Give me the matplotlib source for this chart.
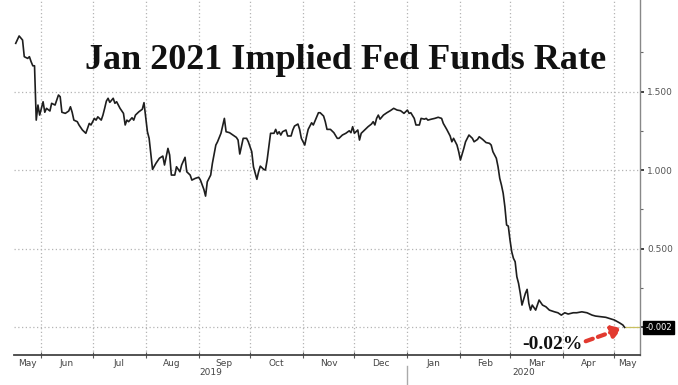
import numpy as np
import pandas as pd
import matplotlib
matplotlib.use("Agg")
import matplotlib.pyplot as plt
import matplotlib.dates as mdates
from matplotlib.ticker import FixedLocator, FixedFormatter, NullFormatter

# values
dates = [
    "2019-05-17", "2019-05-19", "2019-05-21", "2019-05-22", "2019-05-24", "2019-05-25",
    "2019-05-26", "2019-05-27", "2019-05-28", "2019-05-29", "2019-05-30", "2019-05-31",
    "2019-06-02", "2019-06-03", "2019-06-04", "2019-06-06", "2019-06-07", "2019-06-09",
    "2019-06-11", "2019-06-12", "2019-06-13", "2019-06-15", "2019-06-17", "2019-06-18",
    "2019-06-19", "2019-06-20", "2019-06-22", "2019-06-23", "2019-06-25", "2019-06-26",
    "2019-06-27", "2019-06-29", "2019-06-30", "2019-07-02", "2019-07-03", "2019-07-04",
    "2019-07-06", "2019-07-07", "2019-07-08", "2019-07-09", "2019-07-10", "2019-07-11",
    "2019-07-13", "2019-07-14", "2019-07-15", "2019-07-17", "2019-07-19", "2019-07-20",
    "2019-07-21", "2019-07-22", "2019-07-24", "2019-07-25", "2019-07-26", "2019-07-28",
    "2019-07-30", "2019-07-31", "2019-08-02", "2019-08-03", "2019-08-05", "2019-08-07",
    "2019-08-09", "2019-08-11", "2019-08-12", "2019-08-14", "2019-08-15", "2019-08-16",
    "2019-08-18", "2019-08-19", "2019-08-21", "2019-08-22", "2019-08-24", "2019-08-25",
    "2019-08-27", "2019-08-28", "2019-08-30", "2019-09-01", "2019-09-02", "2019-09-04",
    "2019-09-05", "2019-09-06", "2019-09-08", "2019-09-09", "2019-09-11", "2019-09-12",
    "2019-09-14", "2019-09-16", "2019-09-17", "2019-09-19", "2019-09-21", "2019-09-23",
    "2019-09-24", "2019-09-25", "2019-09-27", "2019-09-29", "2019-09-30", "2019-10-02",
    "2019-10-03", "2019-10-05", "2019-10-06", "2019-10-07", "2019-10-09", "2019-10-10",
    "2019-10-11", "2019-10-12", "2019-10-13", "2019-10-15", "2019-10-16", "2019-10-17",
    "2019-10-18", "2019-10-19", "2019-10-20", "2019-10-22", "2019-10-23", "2019-10-25",
    "2019-10-26", "2019-10-27", "2019-10-29", "2019-10-30", "2019-10-31", "2019-11-02",
    "2019-11-03", "2019-11-04", "2019-11-06", "2019-11-07", "2019-11-09", "2019-11-10",
    "2019-11-11", "2019-11-13", "2019-11-14", "2019-11-15", "2019-11-17", "2019-11-19",
    "2019-11-21", "2019-11-22", "2019-11-24", "2019-11-26", "2019-11-28", "2019-11-29",
    "2019-11-30", "2019-12-01", "2019-12-03", "2019-12-04", "2019-12-05", "2019-12-07",
    "2019-12-09", "2019-12-11", "2019-12-12", "2019-12-13", "2019-12-14", "2019-12-15",
    "2019-12-16", "2019-12-18", "2019-12-20", "2019-12-22", "2019-12-24", "2019-12-26",
    "2019-12-28", "2019-12-30", "2020-01-01", "2020-01-02", "2020-01-03", "2020-01-05",
    "2020-01-06", "2020-01-08", "2020-01-09", "2020-01-11", "2020-01-12", "2020-01-13",
    "2020-01-15", "2020-01-17", "2020-01-19", "2020-01-21", "2020-01-22", "2020-01-24",
    "2020-01-26", "2020-01-27", "2020-01-28", "2020-01-30", "2020-01-31", "2020-02-01",
    "2020-02-03", "2020-02-04", "2020-02-06", "2020-02-08", "2020-02-09", "2020-02-11",
    "2020-02-12", "2020-02-14", "2020-02-16", "2020-02-18", "2020-02-19", "2020-02-20",
    "2020-02-22", "2020-02-23", "2020-02-24", "2020-02-25", "2020-02-26", "2020-02-27",
    "2020-02-28", "2020-02-29", "2020-03-01", "2020-03-02", "2020-03-03", "2020-03-04",
    "2020-03-05", "2020-03-06", "2020-03-07", "2020-03-08", "2020-03-10", "2020-03-11",
    "2020-03-12", "2020-03-13", "2020-03-14", "2020-03-16", "2020-03-18", "2020-03-20",
    "2020-03-22", "2020-03-24", "2020-03-27", "2020-03-29", "2020-03-31", "2020-04-02",
    "2020-04-04", "2020-04-07", "2020-04-09", "2020-04-12", "2020-04-15", "2020-04-18",
    "2020-04-20", "2020-04-23", "2020-04-26", "2020-04-28", "2020-05-01", "2020-05-04",
    "2020-05-06", "2020-05-07",
]
rates = [
    1.807, 1.854, 1.828, 1.722, 1.711, 1.722,
    1.690, 1.664, 1.664, 1.318, 1.414, 1.350,
    1.435, 1.368, 1.393, 1.376, 1.425, 1.414,
    1.478, 1.467, 1.368, 1.361, 1.376, 1.403,
    1.368, 1.318, 1.308, 1.287, 1.255, 1.244,
    1.234, 1.297, 1.287, 1.329, 1.318, 1.339,
    1.318, 1.350, 1.393, 1.439, 1.457, 1.431,
    1.457, 1.425, 1.435, 1.393, 1.361, 1.287,
    1.318, 1.308, 1.333, 1.318, 1.350, 1.371,
    1.387, 1.429, 1.244, 1.202, 1.004, 1.043,
    1.075, 1.089, 1.032, 1.138, 1.096, 0.968,
    0.968, 1.021, 0.989, 1.032, 1.081, 0.989,
    0.968, 0.936, 0.947, 0.954, 0.936, 0.877,
    0.834, 0.925, 0.968, 1.043, 1.159, 1.180,
    1.234, 1.329, 1.244, 1.238, 1.223, 1.208,
    1.191, 1.102, 1.202, 1.202, 1.180, 1.117,
    1.021, 0.941, 0.989, 1.025, 1.004, 1.000,
    1.064, 1.148, 1.234, 1.234, 1.259, 1.229,
    1.244, 1.223, 1.244, 1.255, 1.217, 1.217,
    1.255, 1.280, 1.293, 1.259, 1.202, 1.159,
    1.212, 1.259, 1.301, 1.287, 1.339, 1.365,
    1.365, 1.344, 1.308, 1.259, 1.259, 1.238,
    1.202, 1.202, 1.223, 1.234, 1.250, 1.238,
    1.276, 1.234, 1.255, 1.191, 1.234, 1.255,
    1.276, 1.293, 1.308, 1.287, 1.329, 1.350,
    1.324, 1.350, 1.365, 1.378, 1.393, 1.382,
    1.378, 1.361, 1.382, 1.361, 1.365, 1.329,
    1.287, 1.287, 1.329, 1.324, 1.329, 1.318,
    1.324, 1.329, 1.336, 1.329, 1.297, 1.259,
    1.217, 1.180, 1.202, 1.159, 1.117, 1.064,
    1.138, 1.180, 1.223, 1.202, 1.180, 1.195,
    1.212, 1.195, 1.175, 1.170, 1.159, 1.117,
    1.075, 1.021, 0.947, 0.904, 0.852, 0.766,
    0.650, 0.643, 0.554, 0.480, 0.438, 0.416,
    0.320, 0.278, 0.215, 0.140, 0.215, 0.240,
    0.151, 0.108, 0.140, 0.108, 0.172, 0.140,
    0.129, 0.108, 0.097, 0.091, 0.076, 0.091,
    0.083, 0.091, 0.091, 0.097, 0.091, 0.076,
    0.070, 0.066, 0.062, 0.055, 0.045, 0.027,
    0.013, -0.002,
]

title = "Jan 2021 Implied Fed Funds Rate"
note = "-0.02%"
y_ticks = [0.0, 0.5, 1.0, 1.5]
y_labels = ["", "0.500", "1.000", "1.500"]
y_minor = [0.25, 0.75, 1.25, 1.75]
x_start, x_end = "2019-05-16", "2020-05-16"
y_min, y_max = -0.178, 2.083

d = pd.to_datetime(dates)
xl, xr = pd.Timestamp(x_start), pd.Timestamp(x_end)

fig = plt.figure(figsize=(6.78, 3.85), dpi=100)
ax = fig.add_axes([14 / 678, 1 - 355 / 385, 626 / 678, 355 / 385])

ax.plot(d, rates, color="#1e1e1e", lw=1.2, zorder=3)
# last price line
ax.plot([d[-1], xr], [rates[-1], rates[-1]], color="#c9c060", lw=0.9, zorder=2)

ax.set_xlim(xl, xr)
ax.set_ylim(y_min, y_max)

# months: gridlines/ticks at month starts, labels in the middle
month_starts = pd.date_range("2019-06-01", "2020-05-01", freq="MS")
edges = [xl] + list(month_starts) + [xr]
mids = [a + (b - a) / 2 for a, b in zip(edges[:-1], edges[1:])]
ax.xaxis.set_major_locator(FixedLocator(mdates.date2num(month_starts)))
ax.xaxis.set_major_formatter(NullFormatter())
ax.xaxis.set_minor_locator(FixedLocator(mdates.date2num(mids)))
ax.xaxis.set_minor_formatter(FixedFormatter([e.strftime("%b") for e in edges[:-1]]))
ax.tick_params(axis="x", which="major", length=4, direction="inout", color="#555", width=0.8)
ax.tick_params(axis="x", which="minor", length=0, labelsize=6.5, labelcolor="#444", pad=3)

# year labels + year separator
jan = pd.Timestamp("2020-01-01")
trans = ax.get_xaxis_transform()
for a, b, yr in [(xl, jan, "2019"), (jan, xr, "2020")]:
    ax.text(a + (b - a) / 2, -0.05, yr, transform=trans,
            ha="center", va="center", fontsize=6.5, color="#444")
ax.plot([jan, jan], [-0.03, -0.09], transform=trans, color="#aaa", lw=1, clip_on=False)

ax.yaxis.tick_right()
ax.yaxis.set_major_locator(FixedLocator(y_ticks))
ax.yaxis.set_major_formatter(FixedFormatter(y_labels))
ax.yaxis.set_minor_locator(FixedLocator(y_minor))
ax.tick_params(axis="y", which="major", length=3, width=1.3, color="#333",
               labelsize=6.5, labelcolor="#555", pad=2)
ax.tick_params(axis="y", which="minor", length=2, width=0.8, color="#666")

ax.grid(True, which="major", color="#b4b4b4", linestyle=(0, (1, 2)), linewidth=0.9)

for s in ["left", "top"]:
    ax.spines[s].set_visible(False)
ax.spines["bottom"].set_color("#444")
ax.spines["bottom"].set_linewidth(1.3)
ax.spines["right"].set_color("#888")
ax.spines["right"].set_linewidth(1.0)

# last value tag
ax.annotate(f"{rates[-1]:.3f}", xy=(1.0, rates[-1]), xycoords=("axes fraction", "data"),
            xytext=(4, 0), textcoords="offset points", ha="left", va="center",
            fontsize=6, color="white", annotation_clip=False,
            bbox=dict(boxstyle="square,pad=0.25", fc="black", ec="black"))

ax.text(0.529, 0.83, title, transform=ax.transAxes, ha="center", va="center",
        fontsize=26, fontweight="bold", family="Liberation Serif", color="#111")

ax.annotate(note, xy=(d[-1], rates[-1]), xytext=(-52, -12), textcoords="offset points",
            ha="center", va="center", fontsize=14, fontweight="bold",
            family="Liberation Serif", color="#111")
ax.annotate("", xy=(d[-1], rates[-1]), xytext=(-28, -10), textcoords="offset points",
            arrowprops=dict(arrowstyle="-|>,head_length=0.55,head_width=0.35", color="#e23a30",
                            lw=3, linestyle=(0, (1.8, 1.3)), shrinkA=0, shrinkB=2))

fig.savefig("out.png", dpi=100)
